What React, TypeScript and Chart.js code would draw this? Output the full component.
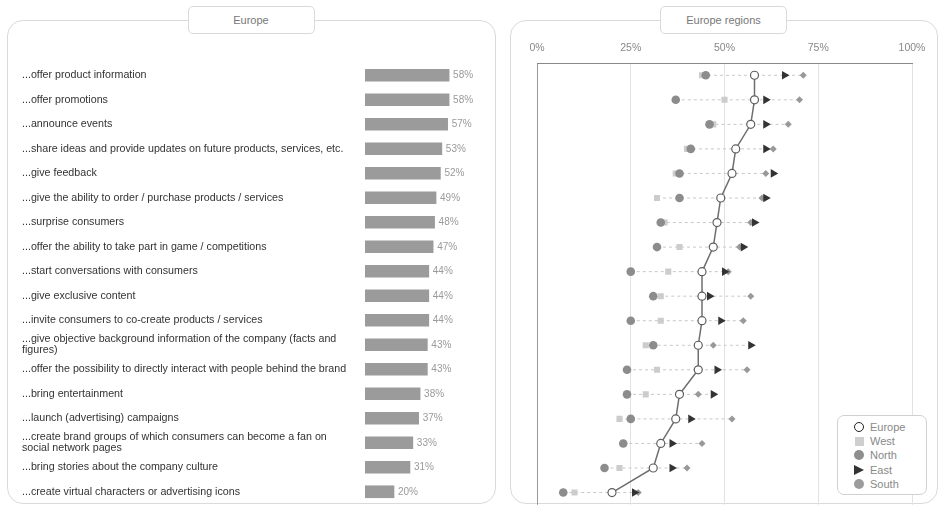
import React, { useEffect, useRef } from "react";
import { Chart, registerables } from "chart.js";

Chart.register(...registerables);

const FONT = "'Liberation Sans', Arial, sans-serif";

const categories: (string | string[])[] = [
  "...offer product information",
  "...offer promotions",
  "...announce events",
  "...share ideas and provide updates on future products, services, etc.",
  "...give feedback",
  "...give the ability to order / purchase products / services",
  "...surprise consumers",
  "...offer the ability to take part in game / competitions",
  "...start conversations with consumers",
  "...give exclusive content",
  "...invite consumers to co-create products / services",
  ["...give objective background information of the company (facts and", "figures)"],
  "...offer the possibility to directly interact with people behind the brand",
  "...bring entertainment",
  "...launch (advertising) campaigns",
  ["...create brand groups of which consumers can become a fan on", "social network pages"],
  "...bring stories about the company culture",
  "...create virtual characters or advertising icons",
];

const europe = [58, 58, 57, 53, 52, 49, 48, 47, 44, 44, 44, 43, 43, 38, 37, 33, 31, 20];
const west = [44, 50, 47, 40, 37, 32, 34, 38, 35, 33, 33, 29, 32, 29, 22, 23, 22, 10];
const north = [45, 37, 46, 41, 38, 38, 33, 32, 25, 31, 25, 31, 24, 24, 25, 23, 18, 7];
const east = [66, 61, 61, 61, 63, 61, 58, 55, 50, 46, 49, 57, 48, 47, 41, 36, 36, 26];
const south = [71, 70, 67, 63, 61, 60, 57, 54, 51, 57, 55, 47, 56, 43, 52, 44, 40, 27];

const xTicks = [0, 25, 50, 75, 100];
const legendItems = ["Europe", "West", "North", "East", "South"];

const zeroPad = (axis: any) => {
  axis.paddingLeft = 0;
  axis.paddingRight = 0;
  axis.paddingTop = 0;
  axis.paddingBottom = 0;
};

function BarChart() {
  const ref = useRef<HTMLCanvasElement>(null);
  useEffect(() => {
    const valueLabels = {
      id: "valueLabels",
      afterDatasetsDraw(chart: any) {
        const ctx = chart.ctx;
        const meta = chart.getDatasetMeta(0);
        ctx.save();
        ctx.font = `10px ${FONT}`;
        ctx.fillStyle = "#9a9a9a";
        ctx.textAlign = "left";
        ctx.textBaseline = "middle";
        meta.data.forEach((bar: any, i: number) => {
          ctx.fillText(europe[i] + "%", bar.x + 4, bar.y);
        });
        ctx.restore();
      },
    };
    const chart = new Chart(ref.current!, {
      type: "bar",
      data: {
        labels: categories as any,
        datasets: [
          {
            data: europe,
            backgroundColor: "#9b9b9b",
            barThickness: 12,
          },
        ],
      },
      options: {
        indexAxis: "y",
        animation: false,
        responsive: false,
        layout: { padding: 0 },
        plugins: { legend: { display: false }, tooltip: { enabled: false } },
        scales: {
          x: { min: 0, max: 100, display: false },
          y: {
            grid: { display: false },
            border: { display: false },
            ticks: {
              autoSkip: false,
              crossAlign: "far",
              color: "#333",
              font: { family: FONT, size: 10.7, lineHeight: 1.0 },
              padding: 0,
            },
            afterFit: (axis: any) => {
              axis.width = 343;
              zeroPad(axis);
            },
          },
        },
      },
      plugins: [valueLabels],
    });
    return () => chart.destroy();
  }, []);
  return (
    <canvas
      ref={ref}
      width={488}
      height={441}
      style={{ position: "absolute", left: 22, top: 63, width: 488, height: 441 }}
    />
  );
}

function DotChart() {
  const ref = useRef<HTMLCanvasElement>(null);
  useEffect(() => {
    const rangeLines = {
      id: "rangeLines",
      beforeDatasetsDraw(chart: any) {
        const ctx = chart.ctx;
        const xs = chart.scales.x;
        const ys = chart.scales.y;
        ctx.save();
        ctx.strokeStyle = "#c8c8c8";
        ctx.lineWidth = 1;
        ctx.setLineDash([3, 3]);
        europe.forEach((_, i) => {
          const vals = [europe[i], west[i], north[i], east[i], south[i]];
          const y = ys.getPixelForValue(i);
          ctx.beginPath();
          ctx.moveTo(xs.getPixelForValue(Math.min(...vals)), y);
          ctx.lineTo(xs.getPixelForValue(Math.max(...vals)), y);
          ctx.stroke();
        });
        ctx.restore();
      },
    };
    const chart = new Chart(ref.current!, {
      type: "line",
      data: {
        labels: categories.map((_, i) => String(i)),
        datasets: [
          {
            label: "Europe",
            data: europe,
            borderColor: "#6e6e6e",
            borderWidth: 1.5,
            pointRadius: 4,
            pointBackgroundColor: "#fff",
            pointBorderColor: "#5e5e5e",
            pointBorderWidth: 1.2,
            showLine: true,
          },
          {
            label: "East",
            data: east,
            showLine: false,
            pointStyle: "triangle",
            rotation: 90,
            pointRadius: 5,
            pointBackgroundColor: "#333",
            pointBorderColor: "#333",
            pointBorderWidth: 0,
          },
          {
            label: "South",
            data: south,
            showLine: false,
            pointStyle: "rectRot",
            pointRadius: 3.5,
            pointBackgroundColor: "#999",
            pointBorderColor: "#999",
            pointBorderWidth: 0,
          },
          {
            label: "North",
            data: north,
            showLine: false,
            pointStyle: "circle",
            pointRadius: 4.3,
            pointBackgroundColor: "#8c8c8c",
            pointBorderColor: "#8c8c8c",
            pointBorderWidth: 0,
          },
          {
            label: "West",
            data: west,
            showLine: false,
            pointStyle: "rect",
            pointRadius: 4.3,
            pointBackgroundColor: "#cccccc",
            pointBorderColor: "#cccccc",
            pointBorderWidth: 0,
          },
        ],
      },
      options: {
        indexAxis: "y",
        animation: false,
        responsive: false,
        layout: { padding: { left: 15, right: 16, top: 0, bottom: 0 } },
        plugins: { legend: { display: false }, tooltip: { enabled: false } },
        scales: {
          x: {
            type: "linear",
            position: "top",
            min: 0,
            max: 100,
            afterBuildTicks: (axis: any) => {
              axis.ticks = xTicks.map((v) => ({ value: v }));
            },
            ticks: {
              callback: (v: any) => v + "%",
              color: "#888",
              font: { family: FONT, size: 10.5 },
              padding: 9,
              maxRotation: 0,
            },
            grid: {
              drawTicks: false,
              color: (c: any) => (c.tick && c.tick.value === 0 ? "#999" : "#e2e2e2"),
              lineWidth: 1,
            },
            border: { color: "#888", width: 1 },
            afterFit: (axis: any) => {
              axis.height = 33;
              zeroPad(axis);
            },
          },
          y: {
            type: "category",
            offset: true,
            display: false,
            afterFit: (axis: any) => {
              zeroPad(axis);
            },
          },
        },
      },
      plugins: [rangeLines],
    });
    return () => chart.destroy();
  }, []);
  return (
    <canvas
      ref={ref}
      width={406}
      height={480}
      style={{ position: "absolute", left: 522, top: 30, width: 406, height: 480 }}
    />
  );
}

function Marker({ kind }: { kind: string }) {
  const common: React.CSSProperties = { display: "inline-block", boxSizing: "border-box" };
  if (kind === "Europe")
    return <span style={{ ...common, width: 10, height: 10, borderRadius: 5, border: "1.8px solid #222", background: "#fff" }} />;
  if (kind === "West") return <span style={{ ...common, width: 9, height: 9, background: "#cfcfcf" }} />;
  if (kind === "North" || kind === "South")
    return <span style={{ ...common, width: 10, height: 10, borderRadius: 5, background: kind === "North" ? "#8e8e8e" : "#9c9c9c" }} />;
  return (
    <span
      style={{
        ...common,
        width: 0,
        height: 0,
        borderTop: "5px solid transparent",
        borderBottom: "5px solid transparent",
        borderLeft: "10px solid #333",
      }}
    />
  );
}

function Panel({ left, width, title }: { left: number; width: number; title: string }) {
  return (
    <>
      <div
        style={{
          position: "absolute",
          left,
          top: 20,
          width,
          height: 484,
          boxSizing: "border-box",
          border: "1.5px solid #dadada",
          borderRadius: 16,
        }}
      />
      <div
        style={{
          position: "absolute",
          left: left + width / 2 - 64,
          top: 6,
          width: 127,
          height: 28,
          boxSizing: "border-box",
          border: "1px solid #dadada",
          borderRadius: 5,
          background: "#fff",
          color: "#777",
          font: `11px ${FONT}`,
          textAlign: "center",
          lineHeight: "26px",
        }}
      >
        {title}
      </div>
    </>
  );
}

export default function App() {
  return (
    <div style={{ position: "absolute", left: 0, top: 0, width: 941, height: 508, background: "#fff", overflow: "hidden" }}>
      <Panel left={7} width={489} title="Europe" />
      <Panel left={510} width={428} title="Europe regions" />
      <BarChart />
      <DotChart />
      <div
        style={{
          position: "absolute",
          left: 837,
          top: 415,
          width: 90,
          height: 80,
          boxSizing: "border-box",
          border: "1.5px solid #d0d0d0",
          borderRadius: 7,
          background: "#fff",
          paddingTop: 4,
        }}
      >
        {legendItems.map((k) => (
          <div key={k} style={{ display: "flex", alignItems: "center", height: 14.2, paddingLeft: 15 }}>
            <span style={{ width: 12, display: "inline-flex", justifyContent: "center" }}>
              <Marker kind={k} />
            </span>
            <span style={{ marginLeft: 5, font: `11px ${FONT}`, color: "#888" }}>{k}</span>
          </div>
        ))}
      </div>
    </div>
  );
}
